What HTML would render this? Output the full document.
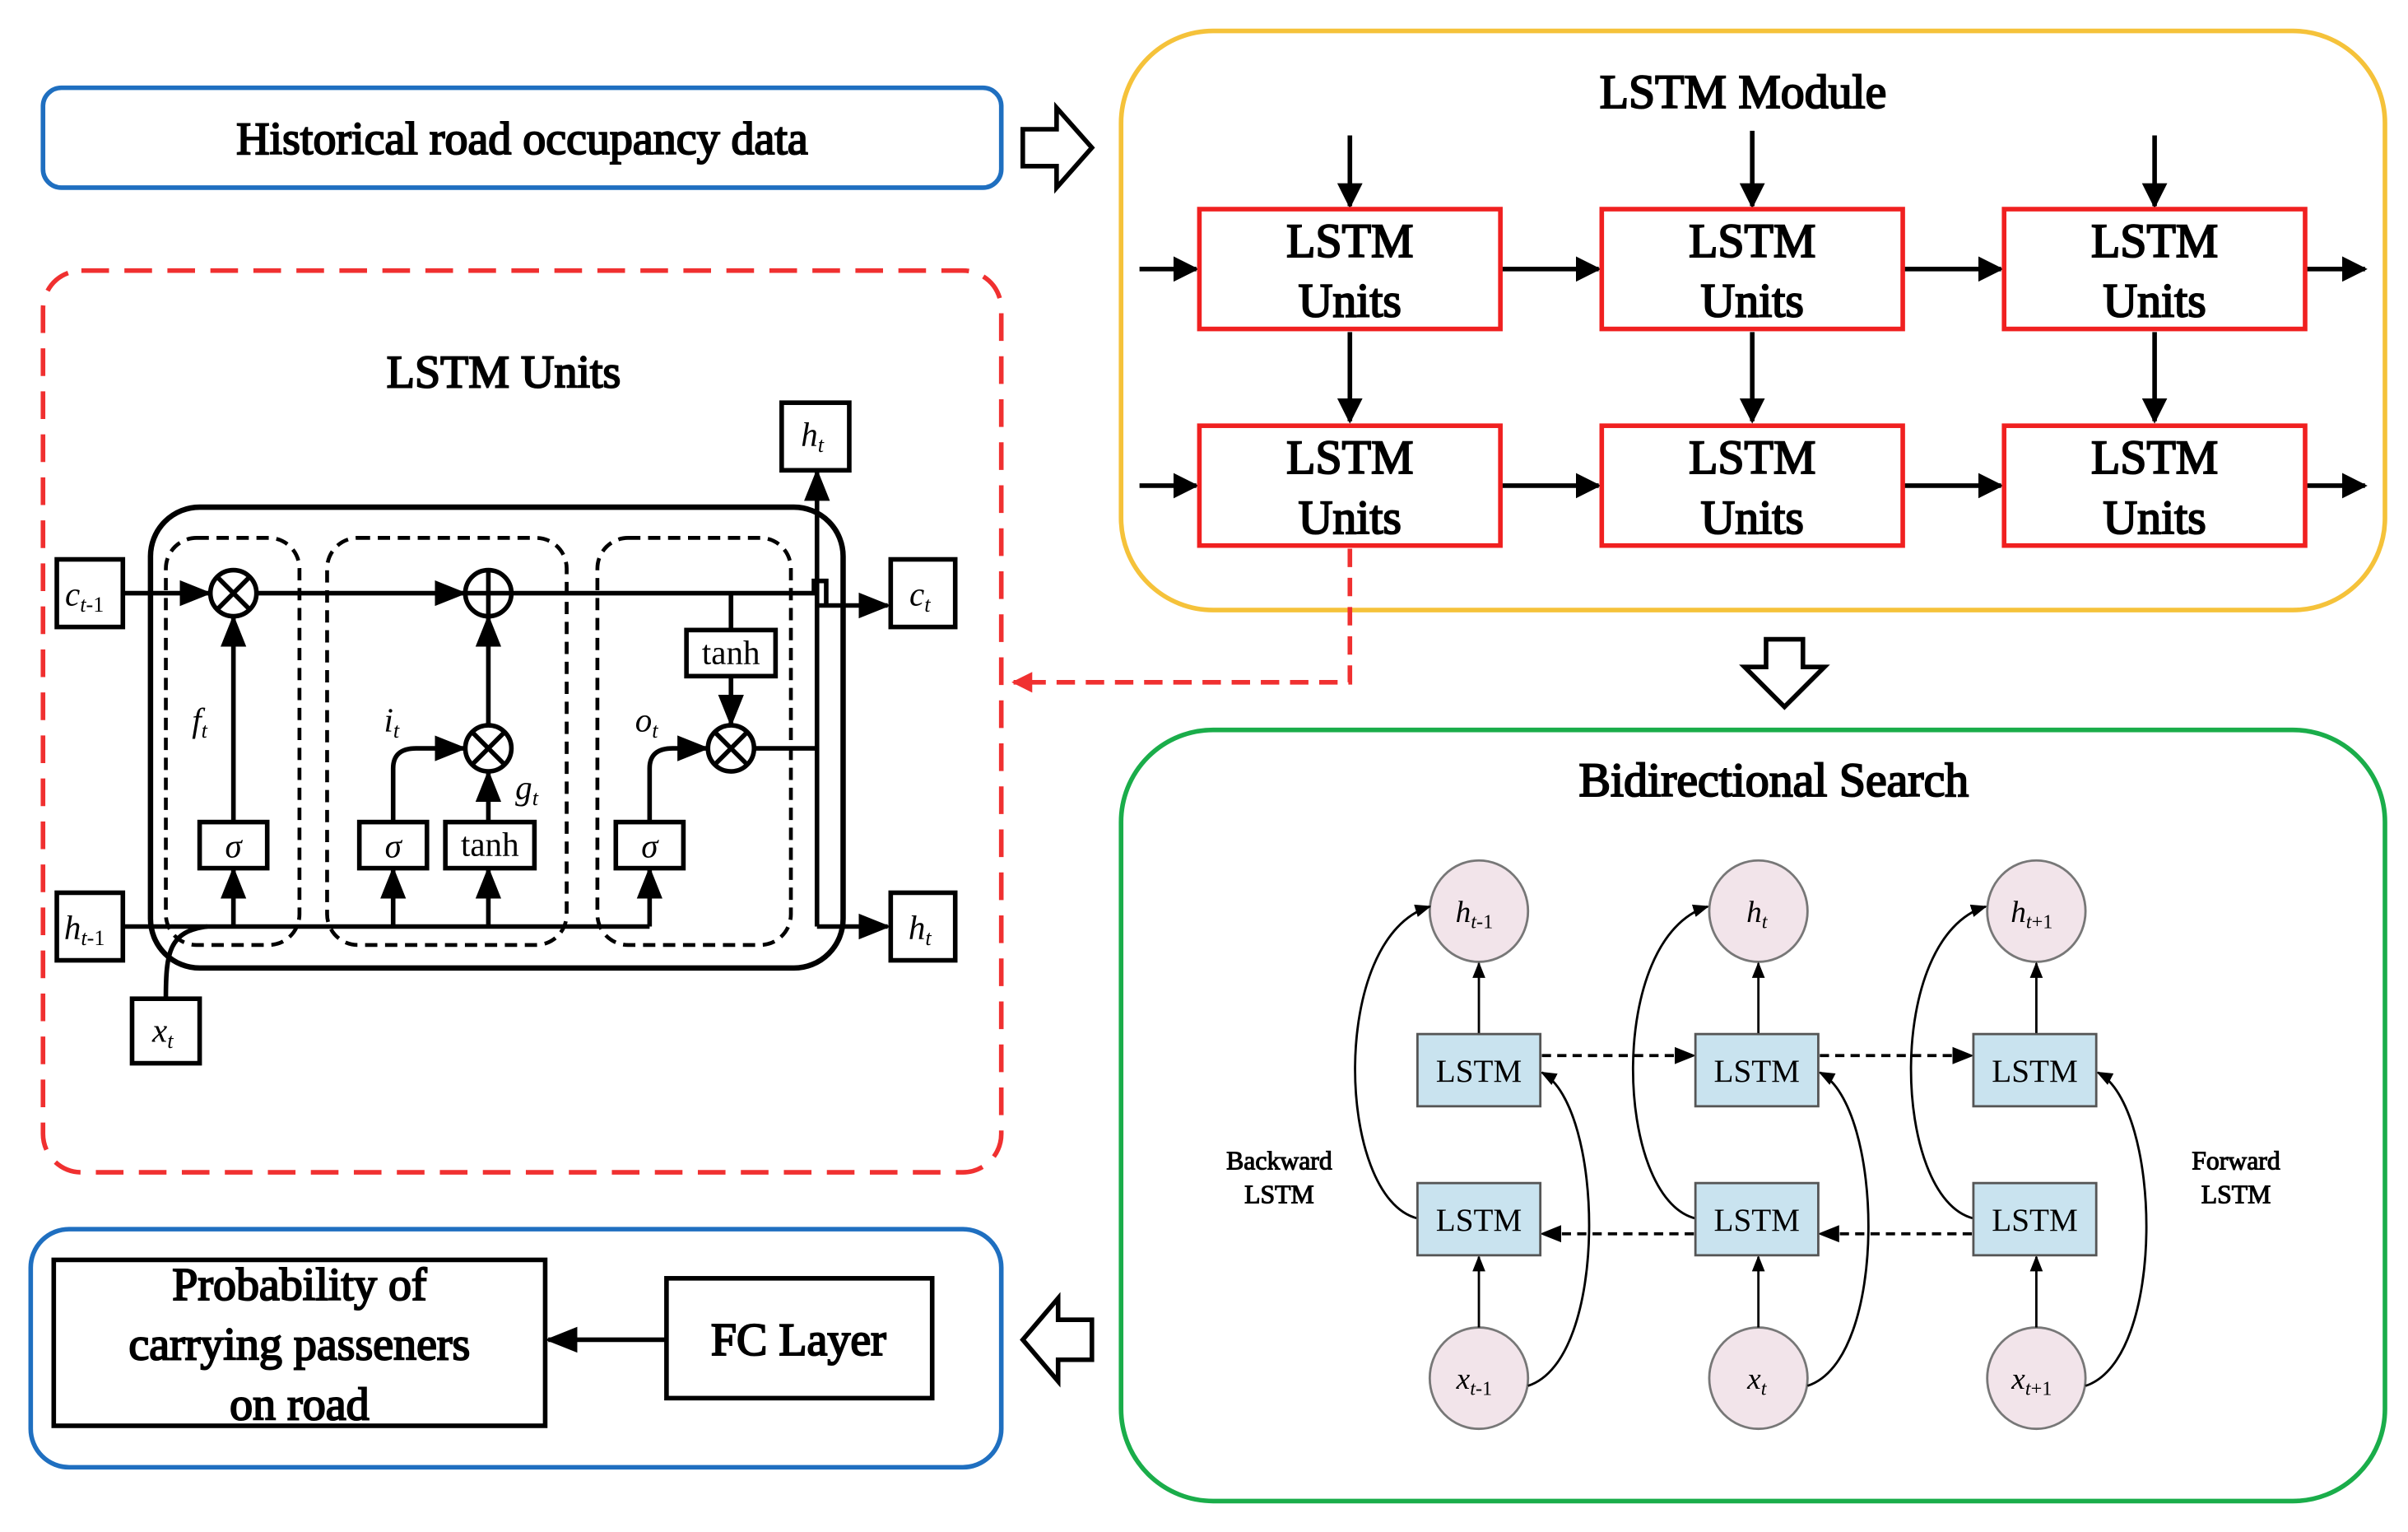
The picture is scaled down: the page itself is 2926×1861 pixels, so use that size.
<!DOCTYPE html>
<html><head><meta charset="utf-8"><style>html,body{margin:0;padding:0;background:#fff}svg{display:block}svg,svg text{font-family:"Liberation Serif","Times New Roman",Times,serif}.b{font-weight:normal;stroke:#000;paint-order:stroke}</style></head><body>
<svg width="2926" height="1861" viewBox="0 0 1568 997" xmlns="http://www.w3.org/2000/svg">
<defs>
<marker id="a" viewBox="0 0 10 10" refX="9" refY="5" markerWidth="5.5" markerHeight="5.5" orient="auto"><path d="M0,0L10,5L0,10z" fill="#000"/></marker>
<marker id="s" viewBox="0 0 10 10" refX="9" refY="5" markerWidth="7" markerHeight="7" orient="auto"><path d="M0,1L10,5L0,9z" fill="#000"/></marker>
<marker id="r" viewBox="0 0 10 10" refX="9" refY="5" markerWidth="4.5" markerHeight="4.5" orient="auto"><path d="M0,0L10,5L0,10z" fill="#f03030"/></marker>
</defs>
<rect x="28" y="57" width="624" height="65" rx="12" fill="none" stroke="#1f6fc0" stroke-width="3"/>
<text class="b" stroke-width="1.1" x="340" y="100" font-size="30" text-anchor="middle">Historical road occupancy data</text>
<path d="M666,84h22v-14l23,26l-23,26v-14h-22z" fill="#fff" stroke="#000" stroke-width="3"/>
<rect x="730" y="20" width="823" height="377" rx="60" fill="none" stroke="#f5c23a" stroke-width="3"/>
<text class="b" stroke-width="1.1" x="1135" y="70" font-size="31" text-anchor="middle">LSTM Module</text>
<g stroke="#000" stroke-width="3" marker-end="url(#a)">
<line x1="879" y1="88" x2="879" y2="134"/><line x1="1141" y1="85" x2="1141" y2="134"/><line x1="1403" y1="88" x2="1403" y2="134"/>
<line x1="879" y1="216" x2="879" y2="274"/><line x1="1141" y1="216" x2="1141" y2="274"/><line x1="1403" y1="216" x2="1403" y2="274"/>
<line x1="742" y1="175" x2="779" y2="175"/><line x1="978" y1="175" x2="1041" y2="175"/><line x1="1240" y1="175" x2="1303" y2="175"/><line x1="1502" y1="175" x2="1540" y2="175"/>
<line x1="742" y1="316" x2="779" y2="316"/><line x1="978" y1="316" x2="1041" y2="316"/><line x1="1240" y1="316" x2="1303" y2="316"/><line x1="1502" y1="316" x2="1540" y2="316"/>
</g>
<g fill="#fff" stroke="#f02020" stroke-width="3">
<rect x="781" y="136" width="196" height="78"/><rect x="1043" y="136" width="196" height="78"/><rect x="1305" y="136" width="196" height="78"/>
<rect x="781" y="277" width="196" height="78"/><rect x="1043" y="277" width="196" height="78"/><rect x="1305" y="277" width="196" height="78"/>
</g>
<g class="b" stroke-width="1.1" font-size="31" text-anchor="middle">
<text x="879" y="167">LSTM</text><text x="879" y="206">Units</text>
<text x="1141" y="167">LSTM</text><text x="1141" y="206">Units</text>
<text x="1403" y="167">LSTM</text><text x="1403" y="206">Units</text>
<text x="879" y="308">LSTM</text><text x="879" y="347">Units</text>
<text x="1141" y="308">LSTM</text><text x="1141" y="347">Units</text>
<text x="1403" y="308">LSTM</text><text x="1403" y="347">Units</text>
</g>
<path d="M879,357V444H660" fill="none" stroke="#f03030" stroke-width="3" stroke-dasharray="12,7" marker-end="url(#r)"/>
<path d="M1150,416h24v18h14l-26,26l-26,-26h14z" fill="#fff" stroke="#000" stroke-width="3"/>
<rect x="28" y="176" width="624" height="587" rx="25" fill="none" stroke="#f03030" stroke-width="3" stroke-dasharray="18,10"/>
<text class="b" stroke-width="1.1" x="328" y="252" font-size="30" text-anchor="middle">LSTM Units</text>
<rect x="98" y="330" width="451" height="300" rx="32" fill="none" stroke="#000" stroke-width="3.5"/>
<g fill="none" stroke="#000" stroke-width="2.5" stroke-dasharray="8,5">
<rect x="108" y="350" width="87" height="265" rx="20"/><rect x="213" y="350" width="156" height="265" rx="20"/><rect x="389" y="350" width="126" height="265" rx="20"/>
</g>
<g fill="#fff" stroke="#000" stroke-width="3">
<rect x="37" y="364" width="43" height="44"/><rect x="580" y="364" width="42" height="44"/><rect x="37" y="581" width="43" height="44"/><rect x="580" y="581" width="42" height="44"/><rect x="509" y="262" width="44" height="44"/><rect x="86" y="650" width="44" height="42"/>
</g>
<g stroke="#000" stroke-width="3" fill="none">
<line x1="80" y1="386" x2="136" y2="386" marker-end="url(#s)"/>
<line x1="167" y1="386" x2="302" y2="386" marker-end="url(#s)"/>
<path d="M333,386H530v-8h8v16h-6H578" marker-end="url(#s)"/>
<line x1="152" y1="535" x2="152" y2="402" marker-end="url(#s)"/>
<line x1="80" y1="603" x2="423" y2="603"/>
<line x1="152" y1="603" x2="152" y2="566" marker-end="url(#s)"/>
<line x1="256" y1="603" x2="256" y2="566" marker-end="url(#s)"/>
<line x1="318" y1="603" x2="318" y2="566" marker-end="url(#s)"/>
<line x1="423" y1="603" x2="423" y2="566" marker-end="url(#s)"/>
<path d="M256,535V500q0,-13 15,-13H302" marker-end="url(#s)"/>
<line x1="318" y1="535" x2="318" y2="503" marker-end="url(#s)"/>
<line x1="318" y1="472" x2="318" y2="402" marker-end="url(#s)"/>
<line x1="476" y1="386" x2="476" y2="410"/>
<line x1="476" y1="440" x2="476" y2="471" marker-end="url(#s)"/>
<path d="M423,535V500q0,-13 15,-13H460" marker-end="url(#s)"/>
<line x1="491" y1="487" x2="532" y2="487"/>
<path d="M532,603V307" marker-end="url(#s)"/>
<line x1="532" y1="603" x2="578" y2="603" marker-end="url(#s)"/>
<path d="M108,650C108,620 110,606 135,603"/>
<circle cx="152" cy="386" r="15"/><circle cx="318" cy="386" r="15"/><circle cx="318" cy="487" r="15"/><circle cx="476" cy="487" r="15"/>
<path d="M141,375l22,22M163,375l-22,22M307,476l22,22M329,476l-22,22M465,476l22,22M487,476l-22,22M318,371v30M303,386h30"/>
</g>
<g fill="#fff" stroke="#000" stroke-width="3">
<rect x="130" y="535" width="44" height="30"/><rect x="234" y="535" width="44" height="30"/><rect x="290" y="535" width="58" height="30"/><rect x="401" y="535" width="44" height="30"/><rect x="447" y="410" width="58" height="30"/>
</g>
<g font-size="22" text-anchor="middle" font-style="italic">
<text x="152" y="558">σ</text><text x="256" y="558">σ</text><text x="423" y="558">σ</text>
<text x="55" y="394">c<tspan font-size="14" dy="4">t</tspan><tspan font-style="normal" font-size="14">-1</tspan></text>
<text x="599" y="394">c<tspan font-size="14" dy="4">t</tspan></text>
<text x="55" y="611">h<tspan font-size="14" dy="4">t</tspan><tspan font-style="normal" font-size="14">-1</tspan></text>
<text x="599" y="611">h<tspan font-size="14" dy="4">t</tspan></text>
<text x="529" y="290">h<tspan font-size="14" dy="4">t</tspan></text>
<text x="106" y="678">x<tspan font-size="14" dy="4">t</tspan></text>
<text x="130" y="476">f<tspan font-size="14" dy="4">t</tspan></text>
<text x="255" y="476">i<tspan font-size="14" dy="4">t</tspan></text>
<text x="421" y="476">o<tspan font-size="14" dy="4">t</tspan></text>
<text x="343" y="520">g<tspan font-size="14" dy="4">t</tspan></text>
</g>
<g font-size="22" text-anchor="middle"><text x="319" y="557">tanh</text><text x="476" y="432">tanh</text></g>
<rect x="730" y="475" width="823" height="502" rx="60" fill="none" stroke="#1aad4a" stroke-width="3"/>
<text class="b" stroke-width="1.1" x="1155" y="518" font-size="31" text-anchor="middle">Bidirectional Search</text>
<g fill="#f2e4ea" stroke="#777" stroke-width="1.5">
<ellipse cx="963" cy="593" rx="32" ry="33"/><ellipse cx="1145" cy="593" rx="32" ry="33"/><ellipse cx="1326" cy="593" rx="32" ry="33"/>
<ellipse cx="963" cy="897" rx="32" ry="33"/><ellipse cx="1145" cy="897" rx="32" ry="33"/><ellipse cx="1326" cy="897" rx="32" ry="33"/>
</g>
<g stroke="#000" stroke-width="1.5" fill="none" marker-end="url(#s)">
<line x1="963" y1="673" x2="963" y2="627"/><line x1="1145" y1="673" x2="1145" y2="627"/><line x1="1326" y1="673" x2="1326" y2="627"/>
<line x1="963" y1="864" x2="963" y2="818"/><line x1="1145" y1="864" x2="1145" y2="818"/><line x1="1326" y1="864" x2="1326" y2="818"/>
<g stroke-width="2" stroke-dasharray="6,4"><line x1="1004" y1="687" x2="1103" y2="687"/><line x1="1185" y1="687" x2="1284" y2="687"/><line x1="1103" y1="803" x2="1004" y2="803"/><line x1="1284" y1="803" x2="1185" y2="803"/></g>
<path d="M923,793C870,780 865,610 931,590"/><path d="M1104,793C1051,780 1046,610 1112,590"/><path d="M1285,793C1232,780 1227,610 1293,590"/>
<path d="M995,902C1048,885 1045,720 1004,698"/><path d="M1177,902C1230,885 1227,720 1185,698"/><path d="M1358,902C1411,885 1408,720 1366,698"/>
</g>
<g fill="#c9e3ef" stroke="#555" stroke-width="1.5">
<rect x="923" y="673" width="80" height="47"/><rect x="1104" y="673" width="80" height="47"/><rect x="1285" y="673" width="80" height="47"/>
<rect x="923" y="770" width="80" height="47"/><rect x="1104" y="770" width="80" height="47"/><rect x="1285" y="770" width="80" height="47"/>
</g>
<g font-size="21" text-anchor="middle">
<text x="963" y="704">LSTM</text><text x="1144" y="704">LSTM</text><text x="1325" y="704">LSTM</text>
<text x="963" y="801">LSTM</text><text x="1144" y="801">LSTM</text><text x="1325" y="801">LSTM</text>
</g>
<g font-size="20" text-anchor="middle" font-style="italic">
<text x="960" y="600">h<tspan font-size="13" dy="4">t</tspan><tspan font-style="normal" font-size="13">-1</tspan></text>
<text x="1144" y="600">h<tspan font-size="13" dy="4">t</tspan></text>
<text x="1323" y="600">h<tspan font-size="13" dy="4">t</tspan><tspan font-style="normal" font-size="13">+1</tspan></text>
<text x="960" y="904">x<tspan font-size="13" dy="4">t</tspan><tspan font-style="normal" font-size="13">-1</tspan></text>
<text x="1144" y="904">x<tspan font-size="13" dy="4">t</tspan></text>
<text x="1323" y="904">x<tspan font-size="13" dy="4">t</tspan><tspan font-style="normal" font-size="13">+1</tspan></text>
</g>
<g class="b" stroke-width="0.6" font-size="17" text-anchor="middle">
<text x="833" y="761">Backward</text><text x="833" y="783">LSTM</text>
<text x="1456" y="761">Forward</text><text x="1456" y="783">LSTM</text>
</g>
<path d="M711,859h-22v-14l-23,27l23,27v-14h22z" fill="#fff" stroke="#000" stroke-width="3"/>
<rect x="20" y="800" width="632" height="155" rx="25" fill="none" stroke="#1f6fc0" stroke-width="3"/>
<rect x="35" y="820" width="320" height="108" fill="#fff" stroke="#000" stroke-width="3"/>
<rect x="434" y="832" width="173" height="78" fill="#fff" stroke="#000" stroke-width="3"/>
<line x1="434" y1="872" x2="357" y2="872" stroke="#000" stroke-width="3" marker-end="url(#s)"/>
<g class="b" stroke-width="1.1" font-size="30" text-anchor="middle">
<text x="195" y="846">Probability of</text><text x="195" y="885">carrying passeners</text><text x="195" y="924">on road</text>
<text x="520" y="882">FC Layer</text>
</g>
</svg>
</body></html>
